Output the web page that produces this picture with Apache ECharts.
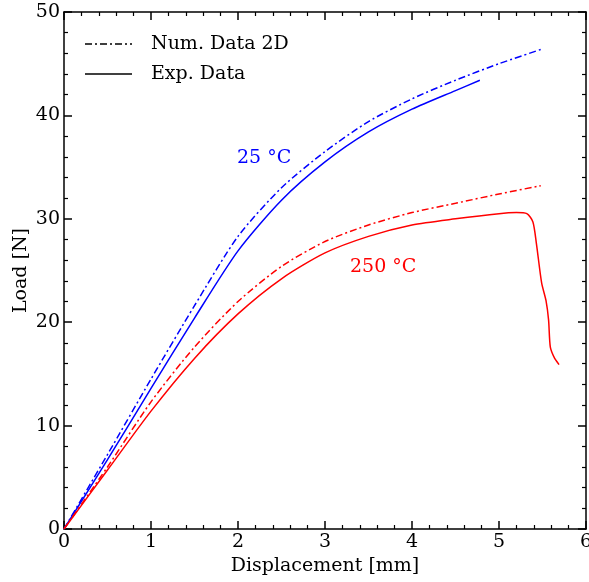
<!DOCTYPE html>
<html>
<head>
<meta charset="utf-8">
<script src="https://cdn.jsdelivr.net/npm/echarts@6/dist/echarts.min.js"></script>
<style>
  html, body { margin: 0; padding: 0; background: #fff; }
  #main { width: 589px; height: 582px; }
</style>
</head>
<body>
<div id="main"></div>
<script>
// 数据 [位移 mm, 载荷 N]
const num25 = [[0, 0], [0.5, 7.2], [1, 14.5], [1.5, 21.6], [2, 28.3], [2.5, 33.0], [3, 36.5],
  [3.5, 39.4], [4, 41.6], [4.5, 43.4], [5, 45.0], [5.49, 46.4]];
const exp25 = [[0, 0], [0.5, 6.7], [1, 13.6], [1.5, 20.4], [2, 26.9], [2.5, 31.8], [3, 35.5],
  [3.5, 38.4], [4, 40.6], [4.5, 42.4], [4.78, 43.4]];
const num250 = [[0, 0], [0.5, 6.0], [1, 12.3], [1.5, 17.6], [2, 22.0], [2.5, 25.4], [3, 27.8],
  [3.5, 29.4], [4, 30.6], [4.5, 31.5], [5, 32.4], [5.48, 33.2]];
const exp250 = [[0, 0], [0.5, 5.7], [1, 11.4], [1.5, 16.5], [2, 20.8], [2.5, 24.2], [3, 26.7],
  [3.5, 28.3], [4, 29.4], [4.5, 30.0], [5, 30.5], [5.2, 30.6], [5.32, 30.5], [5.39, 29.7],
  [5.43, 27.6], [5.49, 23.8], [5.54, 22.1], [5.57, 20.2], [5.59, 17.6], [5.64, 16.5], [5.69, 15.9]];
const legendNames = ['Num. Data 2D', 'Exp. Data'];

const font = 'DejaVu Serif';
const dashDot = [7, 3, 2, 3];

function boxAxis(pos, show, extra) { // 坐标轴 (四边刻度朝内)
  return Object.assign({
    type: 'value',
    position: pos,
    axisLine: { show: true, onZero: false, lineStyle: { color: '#000', width: 1.5 } },
    axisTick: { show: true, inside: true, length: 8, lineStyle: { color: '#000', width: 1.5 } },
    minorTick: { show: true, splitNumber: 5, length: 4, lineStyle: { color: '#000', width: 1.2 } },
    splitLine: { show: false },
    axisLabel: { show: show, color: '#000', fontFamily: font, fontSize: 19, margin: 4 },
  }, extra);
}

function lineSeries(name, data, color, type) {
  return {
    name: name,
    type: 'line',
    data: data,
    showSymbol: false,
    symbol: 'none',
    smooth: 0.25,
    lineStyle: { color: color, width: 1.5, type: type },
    itemStyle: { color: color },
    silent: true,
  };
}

// 图例 (黑色线型说明)
function legendItem(y, text, type) {
  return [
    { type: 'line', shape: { x1: 85, y1: y, x2: 132, y2: y },
      style: { stroke: '#000', lineWidth: 1.3, lineDash: type === 'solid' ? null : dashDot } },
    { type: 'text', x: 151, y: y, style: { text: text, fill: '#000', font: '19px "DejaVu Serif"', verticalAlign: 'middle' } },
  ];
}

const chart = echarts.init(document.getElementById('main'));
chart.setOption({
  animation: false,
  grid: { left: 64, right: 3, top: 12, bottom: 53, outerBoundsMode: 'none' },
  xAxis: [
    boxAxis('bottom', true, {
      min: 0, max: 6, interval: 1,
      name: 'Displacement [mm]', nameLocation: 'middle', nameGap: 27,
      nameTextStyle: { color: '#000', fontFamily: font, fontSize: 19 },
    }),
    boxAxis('top', false, { min: 0, max: 6, interval: 1 }),
  ],
  yAxis: [
    boxAxis('left', true, {
      min: 0, max: 50, interval: 10,
      name: 'Load [N]', nameLocation: 'middle', nameGap: 33, nameMoveOverlap: false,
      nameTextStyle: { color: '#000', fontFamily: font, fontSize: 19 },
    }),
    boxAxis('right', false, { min: 0, max: 50, interval: 10 }),
  ],
  series: [
    lineSeries('num25', num25, '#0000ff', dashDot),
    lineSeries('exp25', exp25, '#0000ff', 'solid'),
    lineSeries('num250', num250, '#ff0000', dashDot),
    lineSeries('exp250', exp250, '#ff0000', 'solid'),
  ],
  graphic: [
    ...legendItem(44, legendNames[0], 'dashdot'),
    ...legendItem(74, legendNames[1], 'solid'),
    { type: 'text', left: 237, top: 149, style: { text: '25 °C', fill: '#0000ff', font: '19px "DejaVu Serif"' } },
    { type: 'text', left: 350, top: 258, style: { text: '250 °C', fill: '#ff0000', font: '19px "DejaVu Serif"' } },
  ],
});
</script>
</body>
</html>
